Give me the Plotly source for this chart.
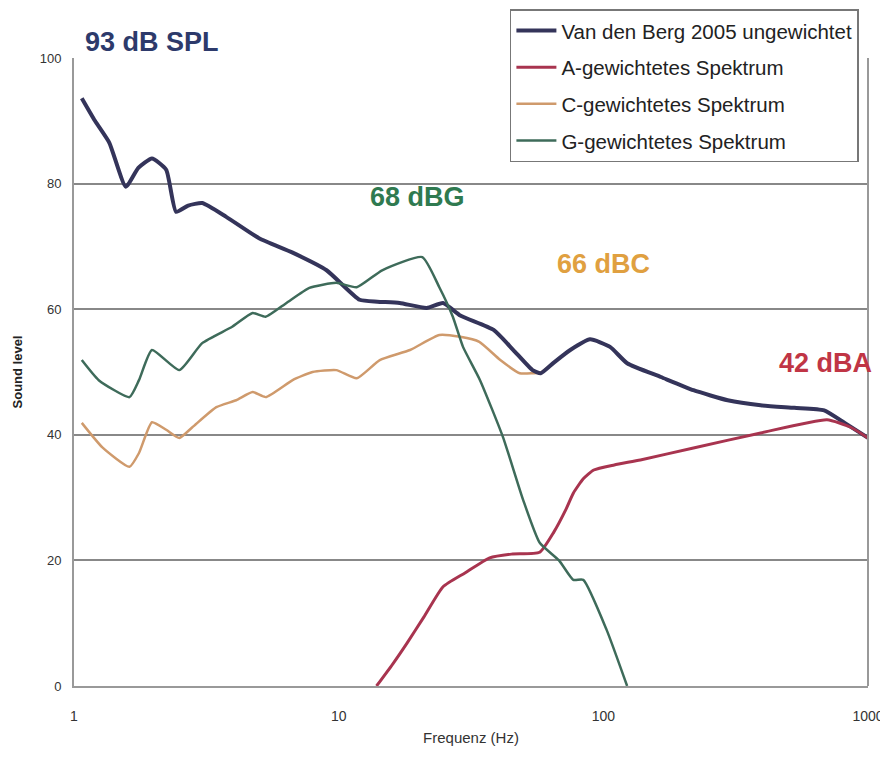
import plotly.graph_objects as go

# Unweighted spectrum (Van den Berg 2005)
freq_u = [1.07, 1.2, 1.36, 1.57, 1.75, 1.97, 2.23, 2.43, 2.7, 3.05, 3.76, 5.0, 6.7, 9.0,
          12.0, 14.0, 17.0, 21.5, 24.8, 28.8, 38.5, 45.7, 54.0, 58.0, 65.0, 75.0, 89.0,
          106.0, 123.0, 165.0, 219.0, 295.0, 393.0, 527.0, 683.0, 816.0, 1000.0]
lvl_u = [93.6, 90.0, 86.5, 79.5, 82.5, 84.0, 82.2, 75.5, 76.5, 76.9, 74.7, 71.3, 69.0, 66.2,
         61.5, 61.2, 61.0, 60.2, 61.0, 59.0, 56.7, 53.5, 50.3, 49.8, 51.5, 53.5, 55.2,
         54.0, 51.4, 49.2, 47.1, 45.5, 44.7, 44.3, 43.9, 41.9, 39.5]

# A-weighted spectrum
freq_a = [13.9, 16.0, 18.1, 21.0, 24.8, 30.0, 37.2, 45.0, 57.5, 65.0, 72.0, 77.0, 84.0,
          92.0, 110.0, 138.0, 219.0, 393.0, 700.0, 860.0, 1000.0]
lvl_a = [0.0, 3.5, 6.8, 11.0, 15.8, 18.0, 20.4, 21.0, 21.3, 24.5, 28.0, 30.7, 33.0,
         34.4, 35.2, 36.0, 37.9, 40.3, 42.4, 41.2, 39.5]

# C-weighted spectrum
freq_c = [1.07, 1.28, 1.62, 1.76, 1.97, 2.23, 2.5, 2.8, 3.45, 4.1, 4.73, 5.3, 6.7, 7.97,
          9.8, 11.7, 14.3, 18.6, 24.0, 28.8, 34.0, 40.8, 48.3, 54.0, 58.0, 65.0, 75.0,
          89.0, 106.0, 123.0, 165.0, 219.0, 295.0, 393.0, 527.0, 683.0, 816.0, 1000.0]
lvl_c = [41.9, 38.0, 34.9, 37.1, 42.0, 40.8, 39.5, 41.2, 44.4, 45.5, 46.8, 46.0, 48.7, 50.0,
         50.3, 49.0, 51.9, 53.5, 55.9, 55.6, 54.8, 51.9, 49.8, 49.8, 49.9, 51.5, 53.5,
         55.2, 54.0, 51.4, 49.2, 47.1, 45.5, 44.7, 44.3, 43.9, 41.9, 39.5]

# G-weighted spectrum
freq_g = [1.07, 1.24, 1.62, 1.76, 1.97, 2.5, 3.05, 3.96, 4.73, 5.3, 6.35, 7.75, 9.8, 11.7,
          14.6, 20.7, 24.0, 27.0, 29.5, 34.2, 41.8, 49.8, 57.5, 68.0, 77.0, 84.0, 103.0, 123.0]
lvl_g = [51.9, 48.7, 46.0, 48.7, 53.5, 50.3, 54.6, 57.2, 59.4, 58.8, 61.0, 63.4, 64.2, 63.5,
         66.2, 68.3, 63.5, 58.8, 54.0, 48.7, 39.6, 29.6, 22.8, 20.0, 16.9, 16.9, 8.9, 0.0]

names = ["Van den Berg 2005 ungewichtet", "A-gewichtetes Spektrum",
         "C-gewichtetes Spektrum", "G-gewichtetes Spektrum"]
y_ticks = [0, 20, 40, 60, 80, 100]
x_ticks = [1, 10, 100, 1000]

SM = 0.5
fig = go.Figure()
fig.add_trace(go.Scatter(x=freq_c, y=lvl_c, mode="lines", name=names[2], legendrank=3,
                         legendgroup="c", line=dict(color="#cf9a6c", width=2.5, shape="spline", smoothing=SM)))
fig.add_trace(go.Scatter(x=freq_u, y=lvl_u, mode="lines", name=names[0], legendrank=1,
                         legendgroup="u", line=dict(color="#34345a", width=4, shape="spline", smoothing=SM)))
fig.add_trace(go.Scatter(x=freq_a, y=lvl_a, mode="lines", name=names[1], legendrank=2,
                         legendgroup="a", line=dict(color="#a8344f", width=3, shape="spline", smoothing=SM)))
fig.add_trace(go.Scatter(x=freq_g, y=lvl_g, mode="lines", name=names[3], legendrank=4,
                         legendgroup="g", line=dict(color="#3e6b5a", width=2.5, shape="spline", smoothing=SM)))

ann_font = "Arial, Liberation Sans, sans-serif"
labels = [("<b>93 dB SPL</b>", 0.098, 1.025, "#2d3a6b"),
          ("<b>68 dBG</b>", 0.433, 0.779, "#2f7a50"),
          ("<b>66 dBC</b>", 0.667, 0.672, "#e0a040"),
          ("<b>42 dBA</b>", 0.947, 0.514, "#c03545")]
for txt, ax, ay, col in labels:
    fig.add_annotation(x=ax, y=ay, xref="paper", yref="paper", text=txt, showarrow=False,
                       xanchor="center", yanchor="middle",
                       font=dict(size=27, color=col, family=ann_font))

fig.update_layout(
    width=888, height=757,
    margin=dict(l=66, r=28, t=50, b=79, autoexpand=False),
    paper_bgcolor="white", plot_bgcolor="white",
    font=dict(family="Arial, Liberation Sans, sans-serif", color="#222"),
    showlegend=True,
    legend=dict(x=0.549, y=0.834, xanchor="left", yanchor="bottom",
                bgcolor="white", bordercolor="#777", borderwidth=1.5,
                font=dict(size=20.5, color="#222"), tracegroupgap=7,
                itemwidth=40),
    xaxis=dict(type="log", range=[0, 3], tickvals=x_ticks, ticktext=["1", "10", "100", "1000"],
               showgrid=False, zeroline=False, showline=True, linecolor="#999", linewidth=2,
               mirror=False, ticks="", ticklabelstandoff=16, tickfont=dict(size=14, color="#333"),
               title=dict(text="Frequenz (Hz)", font=dict(size=15, color="#333"), standoff=10)),
    yaxis=dict(range=[0, 100], tickvals=y_ticks, showgrid=True, gridcolor="#888", gridwidth=2,
               zeroline=False, showline=True, linecolor="#999", linewidth=2, ticks="",
               ticklabelstandoff=8, tickfont=dict(size=13, color="#333"),
               title=dict(text="<b>Sound level</b>", font=dict(size=13, color="#222"), standoff=14)),
)
fig.add_shape(type="line", xref="paper", yref="paper", x0=1, x1=1, y0=0, y1=1,
              line=dict(color="#999", width=2))

fig.write_html("out.html")
